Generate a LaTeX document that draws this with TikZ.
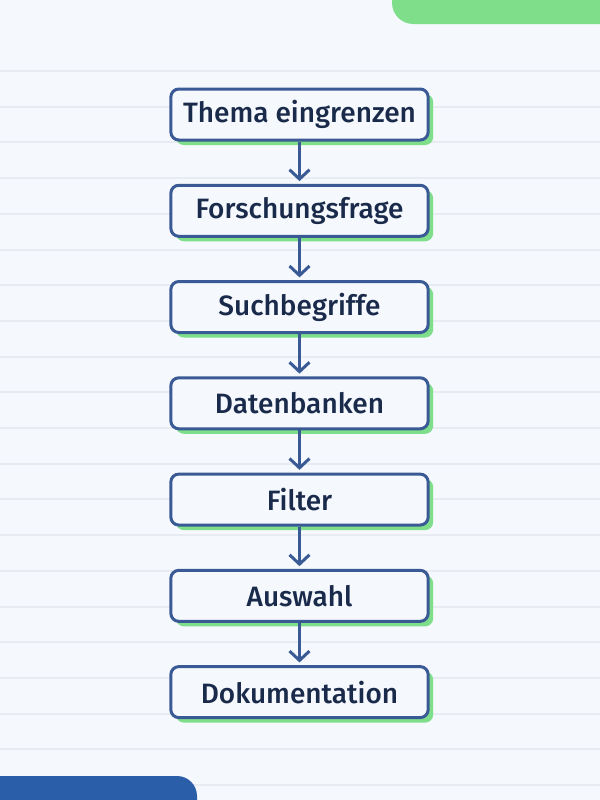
\documentclass[tikz,border=0pt]{standalone}
\usepackage{fontspec}
\setmainfont{Fira Sans}[BoldFont={Fira Sans Medium}]
\usetikzlibrary{arrows.meta, positioning, shadows, backgrounds}
\definecolor{PageBg}{HTML}{F5F8FD}
\definecolor{RuleGrey}{HTML}{E8ECF2}
\definecolor{FrameBlue}{HTML}{3A5A96}
\definecolor{InkNavy}{HTML}{1A2A4A}
\definecolor{LeafGreen}{HTML}{7EDE8A}
\definecolor{BarBlue}{HTML}{2B5EA8}

\begin{document}
\begin{tikzpicture}[
    x=0.75pt, y=-0.75pt,
    % Spacing
    node distance=31.7pt,
    % --- STYLES ---
    % Step boxes: blue frame, green offset shadow
    stepbox/.style={
        draw=FrameBlue,
        line width=2.25pt,
        rounded corners=6pt,
        fill=PageBg,
        minimum width=193pt,
        minimum height=38.25pt,
        text=InkNavy,
        font=\bfseries\fontsize{21}{25}\selectfont,
        drop shadow={shadow xshift=3.75pt, shadow yshift=-3.75pt,
            fill=LeafGreen, opacity=1}
    },
    % Arrows between the steps
    arrow/.style={
        line width=2.25pt,
        color=FrameBlue,
        shorten >=2pt,
        -{Straight Barb[length=7pt, width=15pt, line width=2.25pt]}
    },
    % Ruled paper lines
    rule/.style={
        draw=RuleGrey,
        line width=1.5pt
    }
]

% --- PAGE ---
\useasboundingbox (0,0) rectangle (600,800);
\fill[PageBg] (0,0) rectangle (600,800);
\foreach \k in {0,...,20} {
    \draw [rule] (0,71+35.7*\k) -- (600,71+35.7*\k);
}

% Corner bars
\begin{scope}
    \clip (0,0) rectangle (600,800);
    \fill[LeafGreen, rounded corners=16pt] (392,-40) rectangle (640,24);
    \fill[BarBlue, rounded corners=15pt] (-40,776) rectangle (197,840);
\end{scope}

% --- STEPS ---
\node (thema) [stepbox] at (299.5,114.5) {Thema eingrenzen};
\node (frage) [stepbox, below=of thema] {Forschungsfrage};
\node (begriffe) [stepbox, below=of frage] {Suchbegriffe};
\node (banken) [stepbox, below=of begriffe] {Datenbanken};
\node (filter) [stepbox, below=of banken] {Filter};
\node (auswahl) [stepbox, below=of filter] {Auswahl};
\node (doku) [stepbox, below=of auswahl] {Dokumentation};

% --- CONNECTIONS ---
\draw [arrow] (thema) -- (frage);
\draw [arrow] (frage) -- (begriffe);
\draw [arrow] (begriffe) -- (banken);
\draw [arrow] (banken) -- (filter);
\draw [arrow] (filter) -- (auswahl);
\draw [arrow] (auswahl) -- (doku);

\end{tikzpicture}
\end{document}
